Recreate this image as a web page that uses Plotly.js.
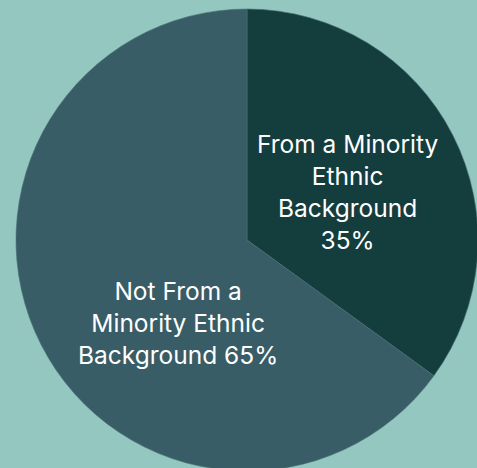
<!DOCTYPE html>
<html>
<head>
<meta charset="utf-8">
<script src="https://cdn.plot.ly/plotly-3.0.1.min.js"></script>
<style>html,body{margin:0;padding:0;overflow:hidden;background:#93c7bf;}#chart{width:480px;height:480px;}</style>
</head>
<body>
<div id="chart"></div>
<script>
const categories = ["From a Minority Ethnic Background", "Not From a Minority Ethnic Background"];
const values = [35, 65];
const labelText = ["From a Minority<br>Ethnic<br>Background<br>35%", "Not From a<br>Minority Ethnic<br>Background 65%"];
const colors = ["#143d3e", "#385d66"];

const trace = {
  type: "pie",
  labels: categories,
  values: values,
  textinfo: "none",
  sort: false,
  direction: "clockwise",
  rotation: 0,
  marker: {colors: colors, line: {color: "#4b6f74", width: 0.6}},
  hoverinfo: "none",
  showlegend: false
};

const labelPos = [[0.7186, 0.603], [0.3506, 0.3214]];
const annotations = labelText.map((t, i) => ({
  text: t,
  xref: "paper", yref: "paper",
  x: labelPos[i][0], y: labelPos[i][1],
  xanchor: "center", yanchor: "middle",
  align: "center",
  showarrow: false,
  font: {family: "Inter, sans-serif", size: 24.5, color: "#ffffff"}
}));

const layout = {
  width: 480, height: 480,
  margin: {l: 16, r: 2, t: 9, b: 9, pad: 0},
  paper_bgcolor: "#93c7bf",
  plot_bgcolor: "#93c7bf",
  showlegend: false,
  annotations: annotations
};

Plotly.newPlot("chart", [trace], layout, {displayModeBar: false, staticPlot: true});
</script>
</body>
</html>
